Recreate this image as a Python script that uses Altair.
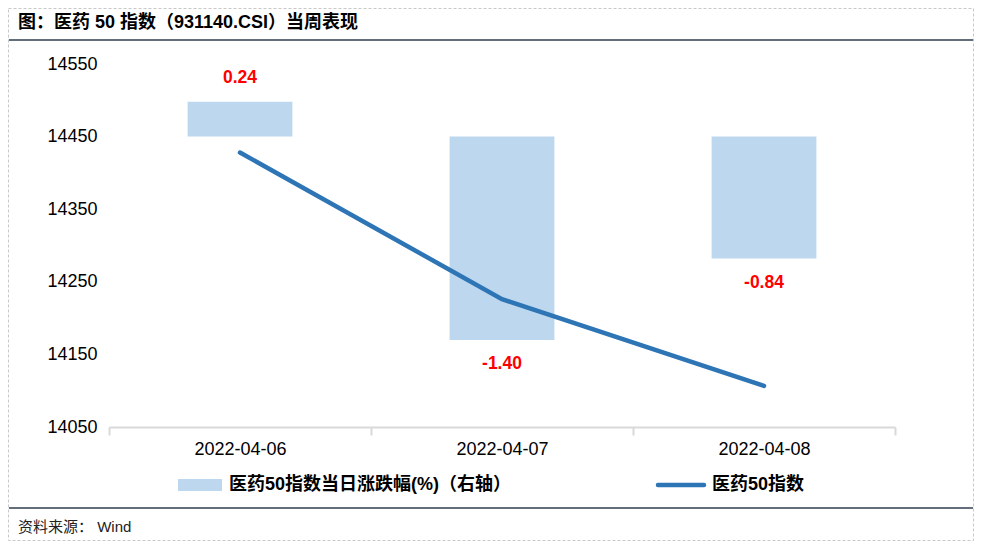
import altair as alt
import pandas as pd

# ---- data ----
dates = ["2022-04-06", "2022-04-07", "2022-04-08"]
index_close = [14428.1, 14226.1, 14106.6]
daily_change = [0.24, -1.40, -0.84]
left_ticks = [14050, 14150, 14250, 14350, 14450, 14550]
right_ticks = [-2.0, -1.5, -1.0, -0.5, 0.0, 0.5]
title_text = ["图：医药 50 指数（931140.CSI）当周表现"]
source_text = ["资料来源： Wind"]
bar_name = ["医药50指数当日涨跌幅(%)（右轴）"]
line_name = ["医药50指数"]

FONT = "Liberation Sans, Arial, Noto Sans CJK SC, sans-serif"
BAR_COLOR = "#BDD7EE"
LINE_COLOR = "#2E75B6"
W, H = 786, 363

df = pd.DataFrame({"date": dates, "close": index_close, "chg": daily_change})
df["label"] = [f"{v:.2f}" for v in daily_change]

x_enc = alt.X(
    "date:N",
    scale=alt.Scale(paddingInner=0, paddingOuter=0),
    axis=alt.Axis(
        title=None, labelAngle=0, tickBand="extent", grid=False,
        domainColor="#d9d9d9", domainWidth=2, tickColor="#d9d9d9", tickWidth=2,
        tickSize=8, labelFontSize=18, labelColor="#000000", labelFont=FONT,
        labelPadding=5,
    ),
)

right_scale = alt.Scale(domain=[-2, 0.5], nice=False, zero=False)
y_right = alt.Y(
    "chg:Q",
    scale=right_scale,
    axis=alt.Axis(
        orient="right", values=right_ticks, title=None, domain=False, ticks=False,
        grid=False, labelFontSize=18, labelPadding=9, labelColor="#000000",
        labelFont=FONT,
        labelExpr="replace(format(datum.value, '.1f'), '\u2212', '-')",
    ),
)

bars = alt.Chart(df).mark_bar(color=BAR_COLOR, width=alt.RelativeBandSize(0.4)).encode(
    x=x_enc, y=y_right, y2=alt.datum(0)
)
lab_pos = alt.Chart(df).transform_filter("datum.chg >= 0").mark_text(
    color="#FF0000", fontWeight="bold", fontSize=17.5, dy=-24, font=FONT
).encode(x=x_enc, y=alt.Y("chg:Q", scale=right_scale, axis=None), text="label:N")
lab_neg = alt.Chart(df).transform_filter("datum.chg < 0").mark_text(
    color="#FF0000", fontWeight="bold", fontSize=17.5, dy=24, font=FONT
).encode(x=x_enc, y=alt.Y("chg:Q", scale=right_scale, axis=None), text="label:N")

right_layer = alt.layer(bars, lab_pos, lab_neg)

line = alt.Chart(df).mark_line(color=LINE_COLOR, strokeWidth=4.5, strokeCap="round").encode(
    x=x_enc,
    y=alt.Y(
        "close:Q",
        scale=alt.Scale(domain=[14050, 14550], nice=False, zero=False),
        axis=alt.Axis(
            orient="left", values=left_ticks, title=None, domain=False, ticks=False,
            grid=False, labelFontSize=18, labelPadding=12, labelColor="#000000",
            labelFont=FONT, format="d",
        ),
    ),
)

# ---- decorations (frame, title, legend, source) ----
one = pd.DataFrame({"t": [0]})
border = alt.Chart(one).mark_rect(
    fillOpacity=0, stroke="#c8c8c8", strokeDash=[3, 2], strokeWidth=1
).encode(x=alt.value(-100.5), x2=alt.value(864.5), y=alt.value(-55.5), y2=alt.value(476.5))
title_rule = alt.Chart(one).mark_rule(color="#2f3e4e", strokeWidth=1.5).encode(
    x=alt.value(-100), x2=alt.value(864), y=alt.value(-24)
)
foot_rule = alt.Chart(one).mark_rule(color="#2f3e4e", strokeWidth=1.5).encode(
    x=alt.value(-100), x2=alt.value(864), y=alt.value(444)
)
title = alt.Chart(pd.DataFrame({"t": title_text})).mark_text(
    align="left", baseline="middle", fontSize=18, fontWeight="bold", font=FONT, color="#000000"
).encode(x=alt.value(-91), y=alt.value(-41), text="t:N")
source = alt.Chart(pd.DataFrame({"t": source_text})).mark_text(
    align="left", baseline="middle", fontSize=15, font=FONT, color="#222222"
).encode(x=alt.value(-91), y=alt.value(463), text="t:N")

leg_rect = alt.Chart(one).mark_rect(color=BAR_COLOR).encode(
    x=alt.value(69), x2=alt.value(113), y=alt.value(415), y2=alt.value(427)
)
leg_text1 = alt.Chart(pd.DataFrame({"t": bar_name})).mark_text(
    align="left", baseline="middle", fontSize=18, fontWeight="bold", font=FONT, color="#000000"
).encode(x=alt.value(120), y=alt.value(421), text="t:N")
leg_line = alt.Chart(one).mark_rule(color=LINE_COLOR, strokeWidth=4.5, strokeCap="round").encode(
    x=alt.value(549), x2=alt.value(595), y=alt.value(421)
)
leg_text2 = alt.Chart(pd.DataFrame({"t": line_name})).mark_text(
    align="left", baseline="middle", fontSize=18, fontWeight="bold", font=FONT, color="#000000"
).encode(x=alt.value(603), y=alt.value(421), text="t:N")

chart = alt.layer(
    right_layer, line, border, title_rule, foot_rule, title, source,
    leg_rect, leg_text1, leg_line, leg_text2,
).resolve_scale(y="independent").properties(
    width=W, height=H,
    autosize=alt.AutoSizeParams(type="none"),
    padding={"left": 101, "top": 56, "right": 79, "bottom": 114},
    background="white",
).configure_view(stroke=None)

chart.save("out.html", embed_options={"renderer": "svg", "actions": False})
